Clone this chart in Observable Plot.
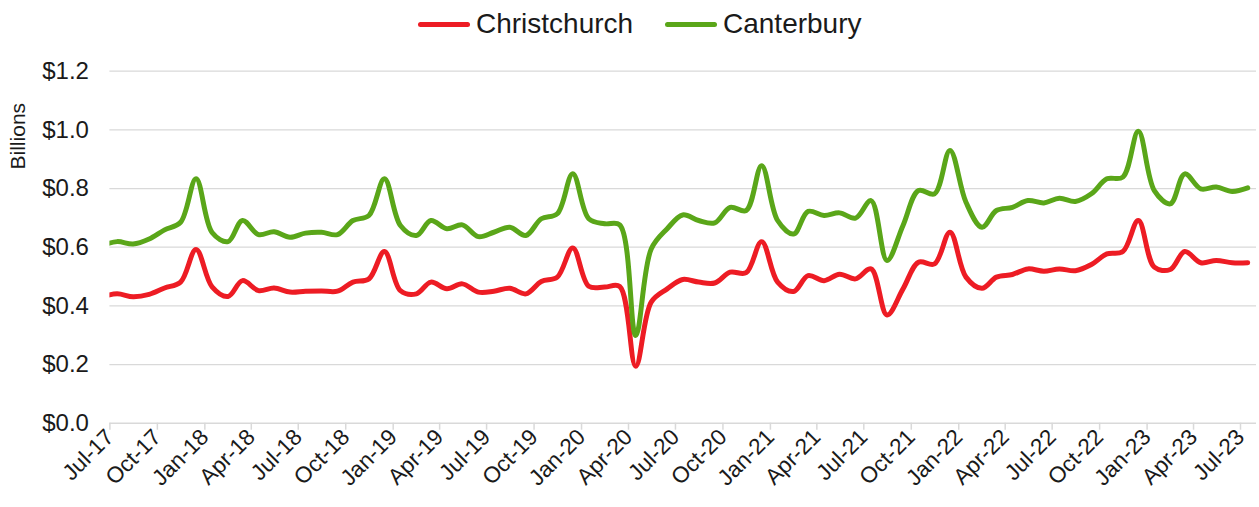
<!DOCTYPE html>
<html>
<head>
<meta charset="utf-8">
<script src="https://cdn.jsdelivr.net/npm/d3@7"></script>
<script src="https://cdn.jsdelivr.net/npm/@observablehq/plot@0.6"></script>
<style>
  html, body { margin: 0; padding: 0; background: #fff; }
  body { width: 1259px; height: 507px; overflow: hidden; font-family: "Liberation Sans", Arial, sans-serif; }
  #legend { position: relative; height: 48px; }
  .item { position: absolute; top: 0; height: 48px; display: flex; align-items: center; font-size: 28px; color: #1a1a1a; }
  .sw { width: 52px; height: 5px; border-radius: 3px; margin-right: 6px; }
</style>
</head>
<body>
<div id="legend"></div>
<div id="chart"></div>
<script>
// Months: Jun-17 (clipped, just left of the axis start) through Jul-23
const startYear = 2017, startMonth = 5; // June 2017
const seriesNames = ["Christchurch", "Canterbury"];
const seriesColors = ["#ED1C24", "#5AA619"];

const christchurch = [0.430,
  0.441, 0.431, 0.439, 0.461, 0.481, 0.592, 0.465, 0.432, 0.486, 0.452, 0.461, 0.447,
  0.450, 0.451, 0.450, 0.481, 0.492, 0.585, 0.452, 0.441, 0.481, 0.458, 0.475, 0.447,
  0.450, 0.460, 0.441, 0.483, 0.498, 0.597, 0.467, 0.464, 0.466, 0.194, 0.413, 0.458,
  0.490, 0.481, 0.478, 0.515, 0.513, 0.619, 0.481, 0.449, 0.503, 0.486, 0.508, 0.492,
  0.526, 0.369, 0.458, 0.549, 0.543, 0.651, 0.498, 0.460, 0.498, 0.507, 0.526, 0.518,
  0.526, 0.520, 0.541, 0.577, 0.585, 0.691, 0.532, 0.524, 0.585, 0.547, 0.555, 0.547,
  0.547];

const canterbury = [0.605,
  0.619, 0.611, 0.628, 0.659, 0.685, 0.833, 0.650, 0.619, 0.691, 0.643, 0.653, 0.634,
  0.648, 0.651, 0.643, 0.691, 0.708, 0.833, 0.674, 0.640, 0.691, 0.663, 0.676, 0.636,
  0.651, 0.668, 0.640, 0.697, 0.714, 0.850, 0.697, 0.680, 0.676, 0.299, 0.594, 0.663,
  0.710, 0.691, 0.683, 0.736, 0.725, 0.878, 0.691, 0.645, 0.722, 0.708, 0.717, 0.699,
  0.759, 0.555, 0.674, 0.793, 0.782, 0.930, 0.753, 0.668, 0.725, 0.736, 0.759, 0.751,
  0.767, 0.756, 0.782, 0.833, 0.839, 0.995, 0.793, 0.748, 0.850, 0.799, 0.805, 0.790,
  0.802];

const yTicks = [0, 0.2, 0.4, 0.6, 0.8, 1.0, 1.2];
const xTicks = d3.utcMonth.every(3).range(new Date(Date.UTC(2017, 6, 1)), new Date(Date.UTC(2023, 6, 2)));

// build table
const rows = [];
[christchurch, canterbury].forEach((vals, s) => {
  vals.forEach((v, i) => rows.push({
    date: new Date(Date.UTC(startYear, startMonth + i, 15)),
    value: v,
    series: seriesNames[s]
  }));
});

// legend
const legend = document.getElementById("legend");
const legendLefts = [418, 665];
seriesNames.forEach((n, i) => {
  const it = document.createElement("div");
  it.className = "item";
  it.style.left = legendLefts[i] + "px";
  it.innerHTML = `<span class="sw" style="background:${seriesColors[i]}"></span><span>${n}</span>`;
  legend.appendChild(it);
});

const chart = Plot.plot({
  width: 1259,
  height: 459,
  marginLeft: 109.4,
  marginRight: 3,
  marginTop: 22.7,
  marginBottom: 84.3,
  style: { fontFamily: "'Liberation Sans', Arial, sans-serif", color: "#1a1a1a", background: "#fff" },
  x: { type: "utc", domain: [new Date(Date.UTC(2017, 6, 1)), new Date(Date.UTC(2023, 7, 1))] },
  y: { domain: [0, 1.2] },
  color: { domain: seriesNames, range: seriesColors },
  marks: [
    Plot.gridY(yTicks.filter(d => d > 0), { stroke: "#d9d9d9", strokeOpacity: 1, strokeWidth: 1.3 }),
    Plot.ruleY([0], { stroke: "#d9d9d9", strokeWidth: 1.5 }),
    Plot.axisY({
      ticks: yTicks, tickSize: 0, tickPadding: 21, fontSize: 24,
      tickFormat: d => "$" + d.toFixed(1), label: null, fill: "#1a1a1a"
    }),
    Plot.axisX({
      ticks: xTicks, tickSize: 7, tickPadding: 3, tickRotate: -45, fontSize: 22.5,
      tickFormat: d3.utcFormat("%b-%y"), label: null, stroke: "#d9d9d9", fill: "#1a1a1a", strokeWidth: 1.5
    }),
    Plot.line(rows, {
      x: "date", y: "value", z: "series", stroke: "series",
      strokeWidth: 5, curve: "catmull-rom", clip: true, strokeLinecap: "round", strokeLinejoin: "round"
    }),
    Plot.text(["Billions"], {
      frameAnchor: "top-left", dx: -100, dy: 65, rotate: -90, fontSize: 21, fill: "#1a1a1a", textAnchor: "middle"
    })
  ]
});
document.getElementById("chart").appendChild(chart);
</script>
</body>
</html>
